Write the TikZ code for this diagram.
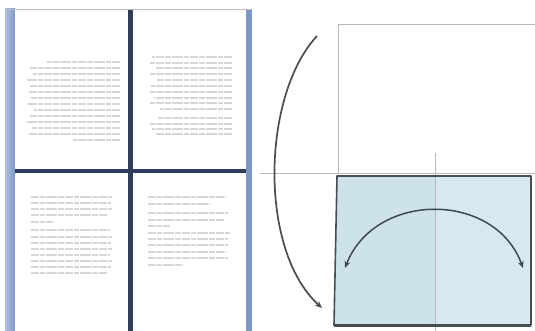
\documentclass[tikz,border=0pt]{standalone}
\usepackage{tikz}
\usetikzlibrary{arrows.meta, positioning}
\definecolor{framebar}{RGB}{125,152,200}
\definecolor{divider}{RGB}{48,62,92}
\definecolor{sheetblue}{RGB}{205,226,234}
\definecolor{sheetlight}{RGB}{215,233,240}
\definecolor{sheetedge}{RGB}{70,78,82}
\definecolor{arrowgrey}{RGB}{62,74,80}

\begin{document}
\begin{tikzpicture}[x=1pt, y=-1pt,
 page/.style={fill=white, inner sep=0pt, minimum width=113pt, anchor=north west},
 txt/.style={draw=gray!32, line width=1.1pt, dash pattern=on 8pt off 1pt on 5pt off 1pt on 11pt off 1pt on 6pt off 1pt},
 crease/.style={draw=gray!55, line width=0.7pt},
 fold/.style={draw=arrowgrey, line width=1.5pt}]
 \useasboundingbox (0,0) rectangle (535,331);
 % booklet pages
 \fill[left color=framebar!60, right color=framebar] (5,9) rectangle (15,331);
 \fill[framebar] (246,9) rectangle (252,331);
 \node[page, minimum height=160pt] (pageTL) at (15,9){};
 \node[page, minimum height=160pt] (pageTR) at (133,9){};
 \node[page, minimum height=157pt] (pageBL) at (15,174){};
 \node[page, minimum height=157pt] (pageBR) at (133,174){};
 \fill[divider] (128,9) rectangle (133,331);
 \fill[divider] (15,169) rectangle (246,173.5);
 \draw[gray!50, line width=0.5pt] (5,9) -- (252,9);
 % upside-down text
 \foreach \y/\l in {62/47,68/30,74/33,80/27,86/30,92/29,98/31,104/28,110/34,116/30,122/27,128/32,134/29,140/73}
  \draw[txt] (120,\y) -- (\l,\y);
 \foreach \y/\l in {57/152,63/150,68/155,74/150,80/157,86/151,92/150,98/154,103/150,109/160,118/158,124/150,129/152,134/155}
  \draw[txt] (232,\y) -- (\l,\y);
 % upright text
 \foreach \y/\r in {197/112,203/111,209/112,215/108,222/53,230/110,237/112,243/111,249/112,255/110,261/112,267/111,273/107}
  \draw[txt] (31,\y) -- (\r,\y);
 \foreach \y/\r in {197/226,204/210,213/228,220/224,226/170,233/230,239/228,245/228,252/226,258/228,265/183}
  \draw[txt] (148,\y) -- (\r,\y);
 % folding sheet
 \draw[crease] (338,174) -- (338,24) -- (535,24);
 \draw[crease] (260,173) -- (535,173);
 \fill[sheetblue] (337,176) -- (531,176) -- (531,325) -- (334,325) -- cycle;
 \fill[sheetlight] (435,176) rectangle (531,325);
 \draw[crease] (435,153) -- (435,331);
 \draw[sheetedge, line width=1.6pt, line join=round] (337,176) -- (531,176) -- (531,325) -- (334,325) -- cycle;
 \draw[sheetedge, line width=2.2pt] (334,326) -- (531,326);
 \coordinate (flapL) at (345,268);
 \coordinate (flapR) at (523,268);
 \draw[fold, {Stealth[length=7pt, width=6pt]}-{Stealth[length=7pt, width=6pt]}] (flapL) .. controls (375,191) and (495,191) .. (flapR);
 \coordinate (turnS) at (317,36);
 \coordinate (turnE) at (322,308);
 \draw[fold, draw=gray!60!black, line width=1.7pt, -{Stealth[length=7pt, width=6pt]}] (turnS) .. controls (262,95) and (258,250) .. (turnE);
\end{tikzpicture}
\end{document}
